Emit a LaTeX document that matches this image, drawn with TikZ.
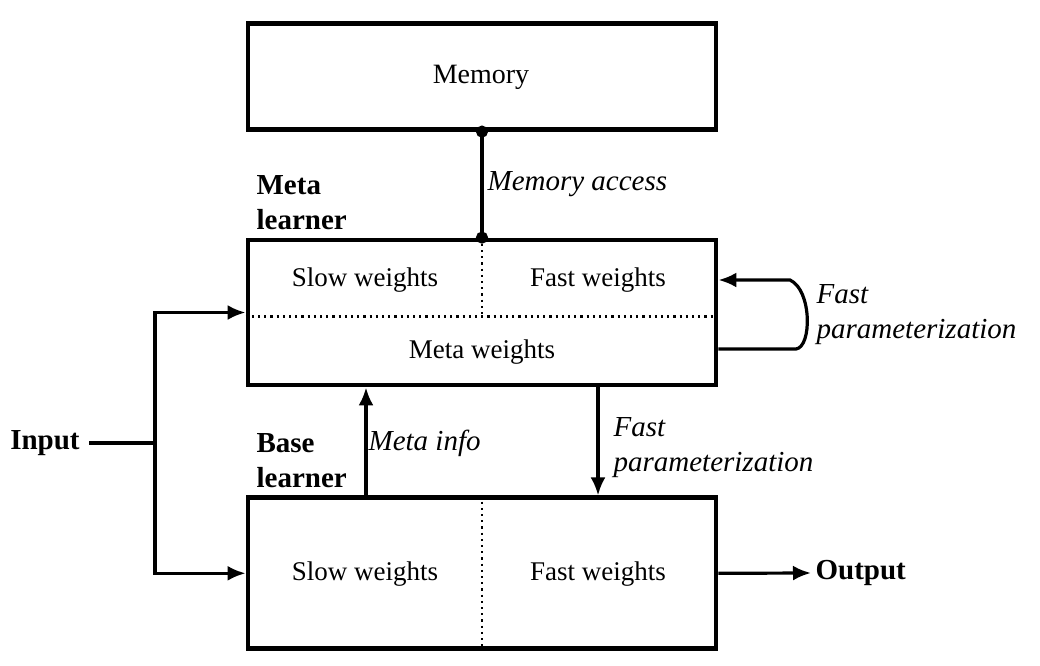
\documentclass[tikz,border=0pt]{standalone}
\usepackage{fontspec}
\setmainfont{Liberation Serif}
\usetikzlibrary{positioning,arrows.meta}

\begin{document}
\begin{tikzpicture}[x=0.5pt,y=-0.5pt,line width=1.6pt,
    box/.style={draw,line width=2.4pt,minimum width=234pt,inner sep=0pt},
    wt/.style={font=\fontsize{13.5}{16}\selectfont},
    lbl/.style={font=\fontsize{14.5}{17.5}\selectfont\itshape,align=left,inner sep=0pt,anchor=west},
    side/.style={font=\fontsize{14.5}{17.5}\selectfont\bfseries,align=left,inner sep=0pt,anchor=west},
    tip/.style={-{Latex[length=9pt,width=7.5pt]}}]
    \useasboundingbox (0,0) rectangle (1040,665);

    \node[box,minimum height=72.5pt] (meta) at (482,312.5) {};
    \node[box,minimum height=53pt] (memory) [above=53pt of meta] {};
    \node[box,minimum height=75.5pt] (base) [below=54pt of meta] {};

    \node[font=\fontsize{14}{16}\selectfont] (memtxt) at (481,77) {Memory};
    \node[wt] (mslow) at (365,280) {Slow weights};
    \node[wt] (mfast) at (598,280) {Fast weights};
    \node[wt] (mmeta) at (482,352) {Meta weights};
    \node[wt] (bslow) at (365,574) {Slow weights};
    \node[wt] (bfast) at (598,574) {Fast weights};

    \draw[dotted,line width=1.1pt] ([yshift=-2pt]meta.west) -- ([yshift=-2pt]meta.east);
    \draw[dotted,line width=1.1pt] (meta.north) -- ([yshift=-2pt]meta.center);
    \draw[dotted,line width=1.1pt] (base.north) -- (base.south);

    \node[side] (metalbl) at (255,203) {Meta\\learner};
    \node[side] (baselbl) at (255,461) {Base\\learner};
    \node[side,inner sep=4pt,anchor=center] (input) at (45,443) {Input};
    \node[side,inner sep=1.5pt] (output) at (811,573) {Output};
    \coordinate (split) at (155,443);

    \draw[{Circle[length=6pt]}-{Circle[length=6pt]},shorten <=-3pt,shorten >=-3pt]
        (memory.south) -- node[lbl,right=2pt] (access) {Memory access} (meta.north);

    \draw (input) -- (split);
    \draw[tip] (split) |- (meta.west);
    \draw[tip] (split) |- (base.west);
    \draw[tip] (base.east) -- (output.west);

    \draw[tip] ([xshift=-58pt]base.north) -- ([xshift=-58pt]meta.south);
    \node[lbl] (info) at (367,443) {Meta info};
    \draw[tip] ([xshift=58pt]meta.south) -- ([xshift=58pt]base.north);
    \node[lbl] (fastlow) at (612,448) {Fast\\parameterization};

    \draw[tip] ([yshift=-18.25pt]meta.east) -- (796,349)
        .. controls (812,347) and (812,290) .. (790,280) -- ([yshift=16.25pt]meta.east);
    \node[lbl] (fastloop) at (815,315) {Fast\\parameterization};
\end{tikzpicture}
\end{document}
